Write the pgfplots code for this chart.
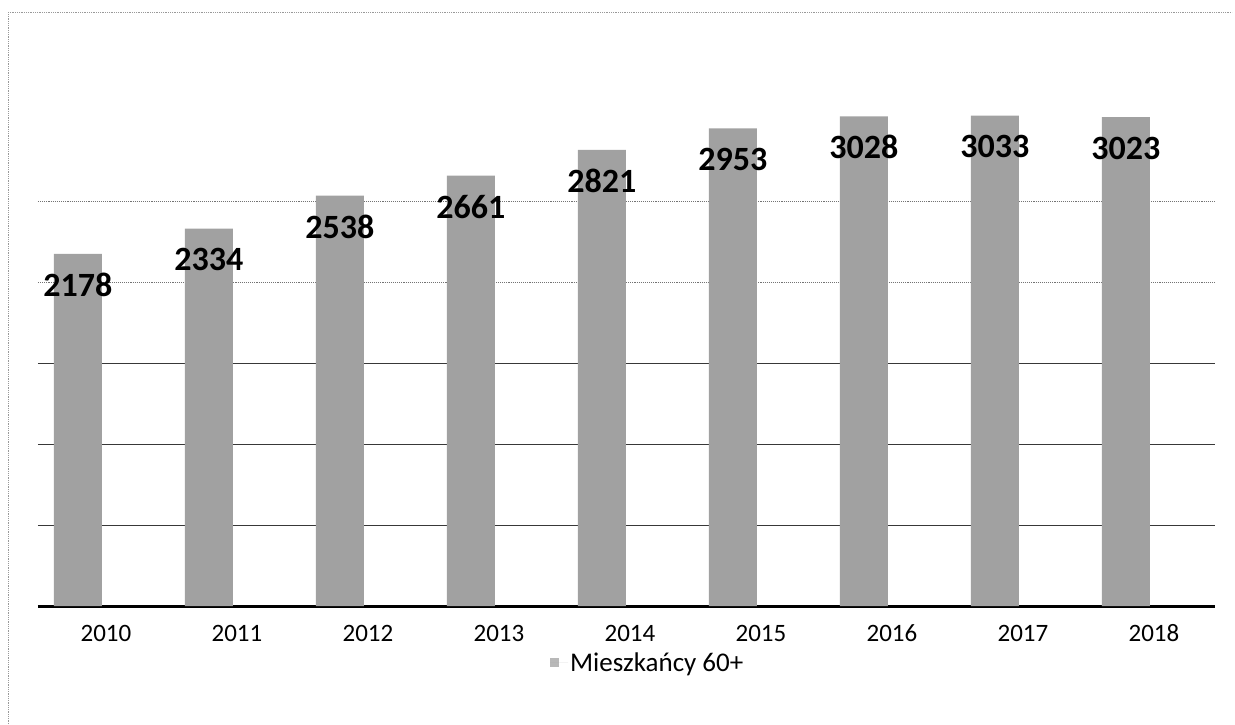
\documentclass[border=0pt]{standalone}
\usepackage{fontspec}
\setmainfont{Carlito}
\usepackage{pgfplots}
\pgfplotsset{compat=1.18}
\definecolor{barg}{gray}{0.63}
\definecolor{legg}{gray}{0.72}
\definecolor{gridg}{gray}{0.22}
\definecolor{gridl}{gray}{0.45}
\definecolor{frameg}{gray}{0.6}
\begin{document}
\begin{tikzpicture}[x=1pt,y=1pt]
\path[use as bounding box] (0,0) rectangle (1235,724);
\draw[frameg, densely dotted, line width=0.8pt] (8,712) -- (1232,712);
\draw[frameg, densely dotted, line width=0.8pt] (8,0) -- (8,712);
\begin{axis}[
  at={(38pt,118pt)}, anchor=south west,
  scale only axis, width=1177pt, height=566pt,
  xmin=-0.305, xmax=8.68, ymin=0, ymax=3500,
  ybar, bar width=48pt,
  axis x line*=bottom, axis y line*=left,
  x axis line style={black, line width=3pt, -},
  y axis line style={draw=none},
  major tick length=0pt,
  xtick={0,1,2,3,4,5,6,7,8},
  xticklabels={2010,2011,2012,2013,2014,2015,2016,2017,2018},
  xticklabel style={font=\fontsize{25}{29}\selectfont, anchor=base, xshift=28pt, yshift=-35pt},
  ytick={500,1000,1500}, yticklabels={},
  ymajorgrids, grid style={gridg, line width=1.1pt},
  extra y ticks={2000,2500}, extra y tick labels={},
  extra y tick style={grid style={gridl, densely dotted, line width=0.9pt}},
  nodes near coords={\pgfmathprintnumber[1000 sep={},assume math mode=true]{\pgfplotspointmeta}},
  nodes near coords style={font=\bfseries\fontsize{34}{38}\selectfont, anchor=center, yshift=-31pt, text=black},
  legend style={at={(0.518,-0.10)}, anchor=center, draw=none, fill=none,
    font=\fontsize{27}{31}\selectfont},
  legend image code/.code={\fill[legg] (0pt,-4pt) rectangle (9pt,5pt); \path (0pt,0pt) -- (18pt,0pt);},
]
\addplot[fill=barg, draw=none] coordinates {
  (0,2178) (1,2334) (2,2538) (3,2661) (4,2821) (5,2953) (6,3028) (7,3033) (8,3023)
};
\addlegendentry{Mieszkańcy 60+}
\end{axis}
\end{tikzpicture}
\end{document}
